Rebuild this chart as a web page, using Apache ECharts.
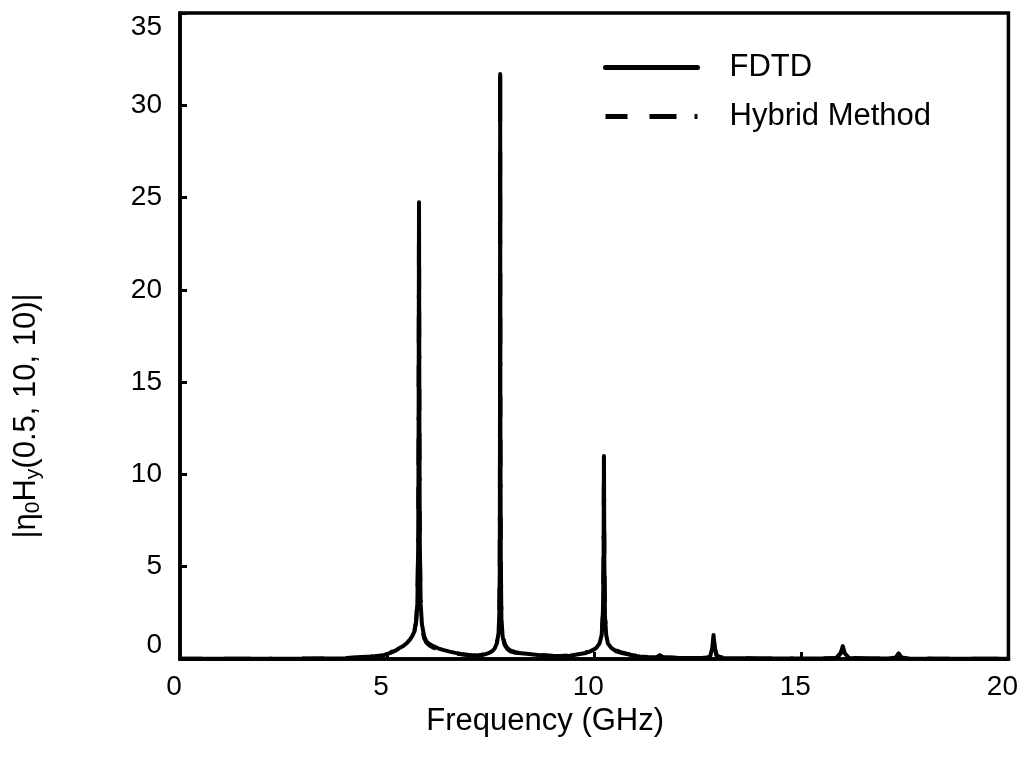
<!DOCTYPE html>
<html>
<head>
<meta charset="utf-8">
<script src="https://cdn.jsdelivr.net/npm/echarts@6/dist/echarts.min.js"></script>
<style>
  html, body { margin: 0; padding: 0; background: #ffffff; }
  #chart { width: 1021px; height: 767px; }
</style>
</head>
<body>
<div id="chart"></div>
<script>
// Spectrum |eta0 Hy(0.5, 10, 10)| versus frequency, [GHz, magnitude] pairs.
const fdtdSpectrum = [
  [0, 0.01], [0.5, 0.01], [1, 0.01], [1.5, 0.01], [2, 0.02], [2.5, 0.02], [3, 0.02], [3.5, 0.03],
  [4, 0.04], [4.3, 0.08], [4.6, 0.12], [4.9, 0.2], [5.08, 0.33], [5.2, 0.45], [5.29, 0.58],
  [5.39, 0.7], [5.47, 0.85], [5.55, 1.05], [5.61, 1.25], [5.66, 1.5], [5.7, 2.0], [5.73, 3.0],
  [5.75, 6.0], [5.76, 12.0], [5.77, 24.75], [5.78, 12.5], [5.79, 6.2], [5.81, 3.0], [5.84, 1.9],
  [5.89, 1.25], [5.95, 0.95], [6.03, 0.8], [6.13, 0.68], [6.23, 0.58], [6.37, 0.48], [6.51, 0.4],
  [6.65, 0.33], [6.79, 0.27], [7.03, 0.2], [7.2, 0.18], [7.36, 0.25], [7.48, 0.35], [7.55, 0.45],
  [7.6, 0.58], [7.65, 0.85], [7.69, 1.4], [7.71, 2.5], [7.72, 5.0], [7.725, 12.0], [7.73, 31.7],
  [7.735, 13.0], [7.745, 5.0], [7.76, 2.2], [7.79, 1.2], [7.84, 0.75], [7.9, 0.55], [7.97, 0.42],
  [8.1, 0.34], [8.37, 0.28], [8.69, 0.2], [9.0, 0.15], [9.2, 0.14], [9.41, 0.18], [9.65, 0.27],
  [9.8, 0.33], [9.89, 0.4], [10.0, 0.52], [10.05, 0.6], [10.13, 0.85], [10.18, 1.3], [10.21, 2.4],
  [10.225, 5.0], [10.235, 11.0], [10.245, 5.2], [10.26, 2.3], [10.29, 1.3], [10.33, 0.85],
  [10.41, 0.6], [10.53, 0.42], [10.67, 0.32], [10.81, 0.26], [10.93, 0.18], [11.1, 0.14],
  [11.3, 0.11], [11.5, 0.1], [11.58, 0.2], [11.66, 0.1], [12.0, 0.06], [12.4, 0.05], [12.7, 0.06],
  [12.8, 0.15], [12.85, 0.6], [12.88, 1.3], [12.91, 0.6], [12.96, 0.15], [13.1, 0.06], [13.5, 0.04],
  [14.0, 0.03], [14.5, 0.03], [15.0, 0.03], [15.5, 0.03], [15.85, 0.06], [15.95, 0.3], [16.0, 0.7],
  [16.05, 0.3], [16.15, 0.06], [16.6, 0.03], [17.1, 0.03], [17.28, 0.08], [17.35, 0.3], [17.42, 0.08],
  [17.6, 0.03], [18.2, 0.02], [19.0, 0.02], [19.5, 0.01], [20, 0.01]
];

const hybridSpectrum = [
  [0, 0.01], [0.5, 0.01], [1, 0.01], [1.5, 0.02], [2, 0.02], [2.5, 0.02], [3, 0.03], [3.5, 0.03],
  [4, 0.05], [4.3, 0.09], [4.6, 0.14], [4.9, 0.22], [5.08, 0.36], [5.2, 0.5], [5.29, 0.63],
  [5.39, 0.76], [5.47, 0.9], [5.55, 1.1], [5.61, 1.3], [5.66, 1.55], [5.7, 2.05], [5.73, 3.1],
  [5.75, 6.1], [5.76, 12.2], [5.77, 24.6], [5.78, 12.3], [5.79, 6.0], [5.81, 2.9], [5.84, 1.8],
  [5.89, 1.15], [5.95, 0.88], [6.03, 0.72], [6.13, 0.6], [6.23, 0.52], [6.37, 0.43], [6.51, 0.36],
  [6.65, 0.3], [6.79, 0.25], [7.03, 0.19], [7.2, 0.19], [7.36, 0.27], [7.48, 0.38], [7.55, 0.5],
  [7.6, 0.62], [7.65, 0.9], [7.69, 1.45], [7.71, 2.6], [7.72, 5.1], [7.725, 12.1], [7.73, 31.6],
  [7.735, 13.2], [7.745, 5.2], [7.76, 2.3], [7.79, 1.3], [7.84, 0.82], [7.9, 0.6], [7.97, 0.47],
  [8.1, 0.37], [8.37, 0.3], [8.69, 0.22], [9.0, 0.17], [9.2, 0.16], [9.41, 0.2], [9.65, 0.29],
  [9.8, 0.36], [9.89, 0.43], [10.0, 0.55], [10.05, 0.64], [10.13, 0.9], [10.18, 1.35], [10.21, 2.5],
  [10.225, 5.1], [10.235, 10.9], [10.245, 5.3], [10.26, 2.4], [10.29, 1.4], [10.33, 0.92],
  [10.41, 0.65], [10.53, 0.46], [10.67, 0.35], [10.81, 0.28], [10.93, 0.2], [11.1, 0.15],
  [11.3, 0.12], [11.5, 0.1], [11.58, 0.18], [11.66, 0.1], [12.0, 0.07], [12.4, 0.05], [12.7, 0.07],
  [12.8, 0.16], [12.85, 0.62], [12.88, 1.25], [12.91, 0.62], [12.96, 0.16], [13.1, 0.07], [13.5, 0.04],
  [14.0, 0.03], [14.5, 0.03], [15.0, 0.03], [15.5, 0.03], [15.85, 0.06], [15.95, 0.32], [16.0, 0.68],
  [16.05, 0.32], [16.15, 0.06], [16.6, 0.03], [17.1, 0.03], [17.28, 0.08], [17.35, 0.28], [17.42, 0.08],
  [17.6, 0.03], [18.2, 0.02], [19.0, 0.02], [19.5, 0.01], [20, 0.01]
];

const seriesNames = ['FDTD', 'Hybrid Method'];
const xRange = [0, 20];
const yRange = [0, 35];
const tickStep = 5;

const FONT = '"Liberation Sans", Arial, sans-serif';
const INK = '#000000';

const chart = echarts.init(document.getElementById('chart'), null, { renderer: 'canvas' });

chart.setOption({
  backgroundColor: '#ffffff',
  animation: false,
  grid: {
    left: 180, right: 11, top: 13, bottom: 108,
    show: true, borderColor: INK, borderWidth: 3.5, backgroundColor: 'transparent'
  },
  legend: {
    orient: 'vertical',
    left: 603,
    top: 52,
    padding: 0,
    itemWidth: 92,
    itemHeight: 20,
    itemGap: 18,
    data: seriesNames,
    lineStyle: { width: 5 },
    itemStyle: { opacity: 0 },
    formatter: name => '{t|' + name + '}',
    textStyle: {
      rich: {
        t: { fontFamily: FONT, fontSize: 31, color: INK, lineHeight: 28, padding: [0, 0, 0, 27] }
      }
    }
  },
  xAxis: {
    type: 'value',
    min: xRange[0],
    max: xRange[1],
    interval: tickStep,
    name: 'Frequency (GHz)',
    nameLocation: 'middle',
    nameGap: 41,
    nameTextStyle: { fontFamily: FONT, fontSize: 31, color: INK, padding: [0, 98, 0, 0] },
    axisLine: { show: true, onZero: false, lineStyle: { color: INK, width: 3.5 } },
    axisTick: { show: true, inside: true, length: 7, lineStyle: { color: INK, width: 3 } },
    axisLabel: { fontFamily: FONT, fontSize: 28, color: INK, margin: 14, padding: [0, 12, 0, 0] },
    splitLine: { show: false }
  },
  yAxis: {
    type: 'value',
    min: yRange[0],
    max: yRange[1],
    interval: tickStep,
    name: '{t||\u03b7}{s|0}{t|H}{s|y}{t|(0.5, 10, 10)|}',
    nameLocation: 'middle',
    nameRotate: 90,
    nameGap: 136,
    nameTextStyle: {
      padding: [0, 160, 0, 0],
      rich: {
        t: { fontFamily: FONT, fontSize: 31, color: INK, lineHeight: 36 },
        s: { fontFamily: FONT, fontSize: 21, color: INK, verticalAlign: 'bottom' }
      }
    },
    axisLine: { show: true, onZero: false, lineStyle: { color: INK, width: 3.5 } },
    axisTick: { show: true, inside: true, length: 7, lineStyle: { color: INK, width: 3 } },
    axisLabel: {
      fontFamily: FONT, fontSize: 28, color: INK, margin: 18,
      verticalAlignMinLabel: 'bottom', verticalAlignMaxLabel: 'top'
    },
    splitLine: { show: false }
  },
  series: [
    {
      name: seriesNames[0],
      type: 'line',
      data: fdtdSpectrum,
      showSymbol: false,
      symbol: 'none',
      lineStyle: { color: INK, width: 4, join: 'round', cap: 'round' },
      itemStyle: { color: INK },
      z: 3
    },
    {
      name: seriesNames[1],
      type: 'line',
      data: hybridSpectrum,
      showSymbol: false,
      symbol: 'none',
      lineStyle: { color: INK, width: 4, type: [22, 22, 27, 18, 3, 30], cap: 'butt' },
      itemStyle: { color: INK },
      z: 2
    }
  ]
});
</script>
</body>
</html>
